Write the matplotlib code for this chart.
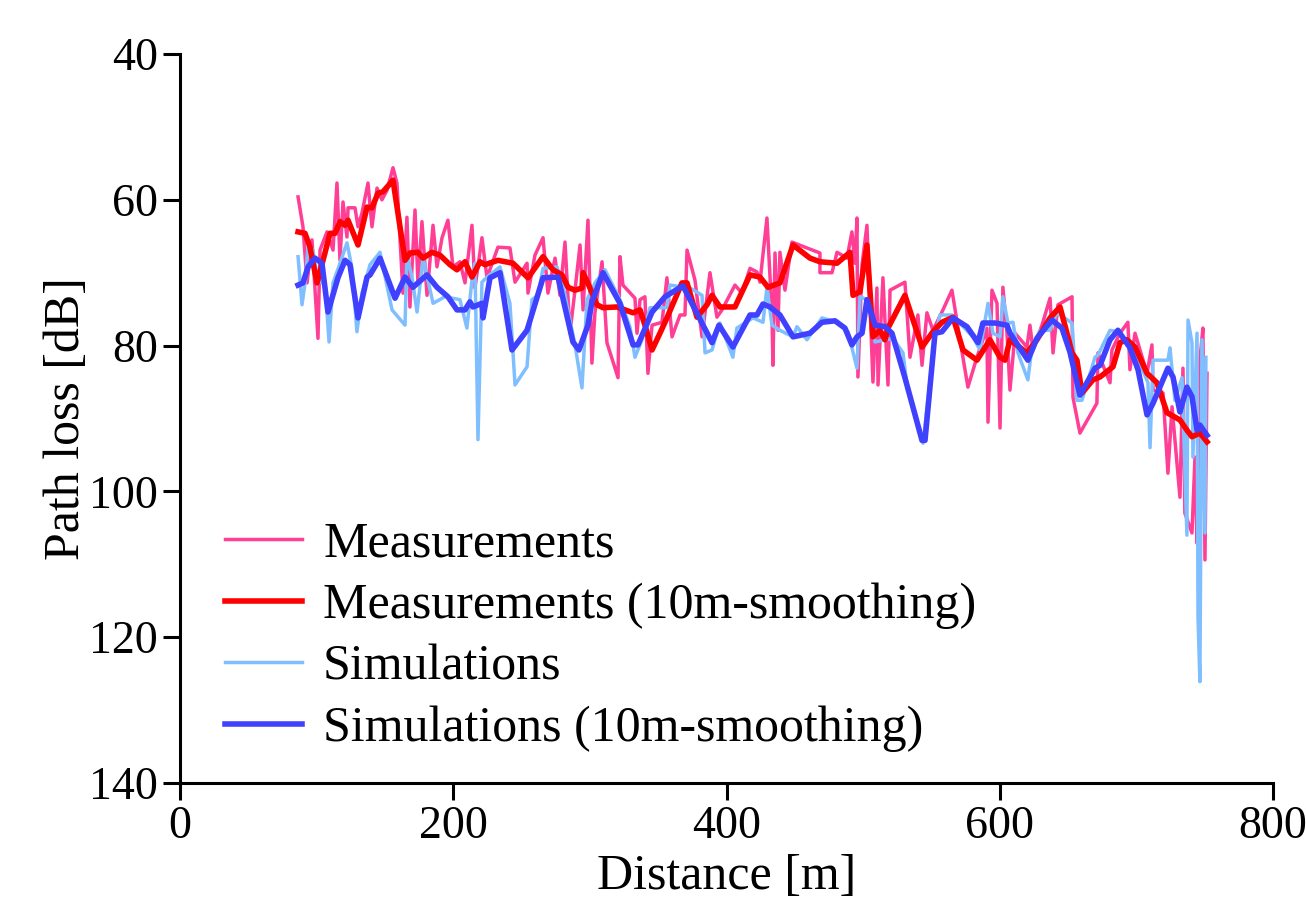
import matplotlib
matplotlib.use("Agg")
import matplotlib.pyplot as plt

plt.rcParams['font.family'] = ['Liberation Serif', 'DejaVu Serif']

# ---- data (distance [m], path loss [dB]) ----
meas_d = [86.4, 90.0, 93.0, 96.6, 101.0, 102.5, 107.6, 112.0, 114.9, 117.1, 119.3, 122.2, 123.0, 128.1,
          130.3, 133.2, 137.6, 140.5, 144.2, 147.8, 151.5, 155.9, 158.8, 163.2, 166.1, 168.3, 172.0, 174.2,
          177.1, 180.8, 185.2, 188.1, 191.8, 196.1, 199.8, 204.9, 208.6, 213.7, 215.9, 221.0, 224.7, 232.7,
          241.5, 245.2, 254.0, 254.7, 259.8, 265.7, 269.3, 274.5, 278.1, 281.8, 285.4, 289.1, 292.8, 295.0,
          298.6, 301.5, 303.7, 308.9, 312.5, 320.6, 322.0, 324.2, 333.0, 334.5, 336.7, 340.3, 342.5, 345.5,
          352.8, 356.4, 360.1, 366.0, 369.6, 371.1, 376.9, 382.1, 387.9, 393.0, 396.7, 406.2, 411.3, 417.2,
          422.3, 424.5, 429.6, 433.3, 434.0, 435.5, 437.7, 439.1, 442.8, 447.9, 468.4, 468.4, 477.2, 480.9,
          488.2, 491.8, 494.0, 495.5, 496.2, 499.2, 502.8, 507.2, 510.1, 510.9, 514.5, 518.2, 519.7, 530.6,
          534.3, 540.1, 543.1, 546.7, 551.1, 557.7, 565.0, 570.9, 576.7, 583.3, 590.6, 591.4, 594.3, 598.0,
          600.2, 602.3, 605.3, 607.5, 611.2, 619.9, 622.1, 624.3, 630.9, 636.8, 639.0, 642.6, 652.9, 653.6,
          658.7, 671.1, 671.9, 680.7, 682.1, 688.0, 693.8, 695.3, 699.0, 707.8, 711.4, 712.2, 719.5, 723.1,
          726.1, 731.9, 734.1, 735.5, 740.7, 742.9, 744.4, 746.5, 748.7, 750.2, 751.7]
meas_pl = [59.6, 63.7, 71.4, 65.5, 79.0, 66.9, 64.4, 66.9, 57.7, 68.3, 60.3, 65.1, 61.1, 61.1,
           63.7, 61.8, 57.7, 63.7, 58.4, 60.0, 58.7, 55.6, 57.7, 72.8, 62.4, 74.7, 61.4, 71.4,
           63.0, 73.1, 63.5, 69.2, 65.2, 62.8, 69.2, 68.5, 71.4, 63.5, 72.1, 65.2, 70.7, 66.5,
           66.6, 71.3, 68.7, 72.8, 67.6, 65.2, 72.8, 68.0, 73.1, 65.8, 78.3, 72.4, 66.2, 75.1,
           62.8, 82.4, 75.5, 68.5, 79.6, 84.4, 67.8, 71.7, 73.5, 78.3, 73.7, 73.3, 83.8, 77.2,
           76.8, 70.7, 78.8, 75.8, 75.8, 66.9, 71.0, 78.8, 70.0, 76.1, 75.1, 71.7, 72.8, 69.4,
           69.9, 71.3, 62.5, 75.8, 82.7, 67.3, 77.9, 67.2, 72.4, 65.8, 67.3, 70.0, 70.0, 67.2,
           68.0, 64.4, 68.7, 62.5, 84.3, 68.9, 63.5, 85.0, 72.1, 85.4, 70.7, 85.4, 72.4, 71.3,
           81.6, 75.8, 82.7, 75.5, 77.9, 75.4, 72.4, 79.2, 85.7, 81.6, 77.6, 90.5, 72.4, 74.2,
           91.3, 72.0, 78.3, 86.1, 78.3, 80.2, 77.2, 80.6, 77.2, 73.5, 81.0, 74.4, 73.3, 87.1,
           92.0, 87.9, 81.0, 85.1, 80.6, 78.3, 76.8, 83.3, 78.3, 83.8, 79.9, 86.1, 86.5, 97.5,
           88.4, 100.8, 83.1, 103.0, 105.7, 95.3, 107.1, 82.0, 77.6, 109.4, 83.8]

meas_s_d = [86.4, 91.5, 95.1, 100.3, 104.7, 109.8, 113.5, 117.1, 120.8, 123.0, 130.3, 136.9, 140.5, 144.9,
            148.6, 155.9, 164.7, 168.3, 174.2, 177.9, 184.4, 190.3, 197.6, 202.7, 208.6, 213.7, 219.6, 223.2,
            232.7, 243.7, 254.7, 265.7, 273.0, 279.6, 284.0, 289.1, 294.2, 295.0, 300.1, 305.2, 309.6, 319.8,
            331.6, 336.7, 340.3, 345.5, 351.3, 356.4, 367.4, 371.1, 378.4, 385.7, 389.4, 395.2, 406.2, 417.2,
            424.5, 430.4, 439.1, 448.7, 461.1, 468.4, 480.9, 490.4, 492.6, 497.7, 502.8, 507.2, 512.3, 516.0,
            518.2, 530.6, 543.1, 551.1, 557.7, 565.8, 573.1, 583.3, 592.8, 600.2, 603.8, 607.5, 619.9, 627.2,
            636.8, 644.1, 649.2, 652.9, 656.5, 660.2, 668.2, 673.4, 682.9, 688.0, 693.1, 699.0, 707.8, 715.1,
            722.4, 731.9, 737.0, 740.7, 746.5, 751.7]
meas_s_pl = [64.4, 64.6, 66.5, 71.4, 68.3, 64.6, 64.6, 63.0, 63.5, 62.8, 66.2, 61.0, 61.1, 59.1,
             58.9, 57.3, 68.3, 67.3, 67.2, 68.0, 67.2, 67.6, 68.9, 69.6, 68.5, 70.6, 68.5, 68.9,
             68.3, 68.7, 70.7, 67.8, 69.6, 70.3, 72.0, 72.4, 72.1, 70.0, 72.1, 74.4, 74.8, 74.7,
             75.5, 75.1, 77.2, 80.6, 78.3, 76.2, 71.4, 71.4, 76.1, 74.4, 73.1, 74.7, 74.7, 70.3,
             70.6, 72.0, 71.4, 66.2, 68.0, 68.5, 68.7, 67.2, 73.1, 72.6, 66.2, 78.8, 77.9, 79.2,
             77.6, 73.1, 80.2, 78.1, 76.8, 76.1, 80.6, 82.0, 79.2, 81.6, 82.0, 79.2, 81.0, 79.2,
             76.2, 74.7, 78.3, 81.0, 82.0, 86.5, 84.7, 84.3, 82.9, 79.6, 79.2, 80.2, 83.8, 85.1,
             89.2, 90.2, 91.6, 92.5, 92.0, 93.2]

sim_d = [86.4, 89.3, 91.5, 93.7, 97.3, 101.0, 106.1, 109.1, 112.0, 117.1, 122.2, 125.9, 129.5, 133.2,
         139.1, 146.4, 155.2, 164.7, 166.1, 169.8, 173.5, 177.9, 185.2, 193.9, 204.9, 210.0, 213.7, 215.9,
         218.1, 221.0, 224.7, 234.2, 241.5, 245.2, 254.0, 257.6, 262.0, 265.7, 275.9, 280.3, 289.1, 294.2,
         297.9, 303.7, 311.1, 322.0, 329.3, 333.0, 338.1, 344.0, 356.4, 358.6, 373.3, 382.1, 384.3, 389.4,
         395.2, 404.7, 407.6, 419.4, 426.7, 429.6, 433.3, 439.1, 448.7, 451.6, 458.9, 469.9, 480.9, 488.9,
         495.5, 497.7, 502.8, 508.7, 521.9, 529.2, 532.1, 543.8, 552.6, 556.2, 565.0, 580.4, 585.5, 591.4,
         595.0, 600.2, 602.3, 606.0, 609.7, 613.3, 620.6, 623.6, 629.4, 636.8, 641.9, 652.9, 656.5, 660.2,
         669.7, 671.9, 680.7, 686.5, 697.5, 708.5, 710.0, 712.2, 723.1, 724.6, 728.2, 733.4, 737.0, 737.8,
         740.7, 741.4, 744.4, 745.1, 746.5, 748.0, 750.2, 750.9]
sim_pl = [67.8, 74.4, 71.4, 66.5, 66.9, 71.3, 71.4, 79.5, 71.4, 68.7, 65.9, 69.4, 78.1, 72.8,
          68.9, 67.2, 75.1, 77.2, 67.6, 70.6, 75.4, 68.0, 74.2, 73.3, 73.7, 77.6, 71.0, 68.7,
          92.9, 71.3, 70.6, 69.2, 74.2, 85.4, 82.9, 73.7, 73.1, 69.4, 69.2, 71.7, 79.9, 85.8,
          73.7, 71.4, 69.6, 73.7, 77.4, 81.6, 79.2, 74.8, 74.8, 71.7, 72.1, 73.1, 81.0, 80.6,
          76.9, 81.6, 77.6, 76.2, 76.8, 72.0, 77.2, 77.9, 78.8, 77.4, 79.2, 76.2, 76.8, 78.1,
          83.1, 73.3, 73.7, 79.5, 79.0, 81.0, 85.4, 93.4, 78.8, 75.8, 75.8, 78.8, 80.6, 74.2,
          78.3, 78.8, 73.3, 76.9, 76.8, 81.0, 84.7, 80.2, 77.9, 77.9, 75.5, 76.9, 87.5, 87.5,
          81.6, 81.3, 77.9, 78.1, 80.2, 85.1, 94.0, 82.0, 82.0, 80.3, 87.5, 84.4, 106.0, 76.5,
          79.6, 95.3, 78.3, 117.2, 126.1, 79.2, 105.7, 81.6]

sim_s_d = [86.4, 90.0, 93.7, 98.8, 103.9, 108.3, 115.6, 120.8, 124.4, 130.3, 136.9, 139.1, 146.4, 157.4,
           164.7, 170.5, 180.8, 188.1, 196.1, 202.7, 208.6, 212.2, 214.4, 221.0, 221.8, 226.9, 234.2, 243.0,
           254.0, 265.7, 276.7, 287.6, 292.0, 298.6, 301.5, 309.6, 322.0, 331.6, 335.2, 345.5, 355.0, 368.1,
           389.4, 394.5, 404.7, 417.2, 422.3, 426.7, 431.8, 439.1, 448.7, 461.1, 469.9, 479.4, 486.7, 491.8,
           495.5, 499.2, 502.8, 508.7, 516.0, 521.1, 530.6, 543.1, 545.3, 552.6, 557.7, 565.8, 576.0, 584.1,
           587.7, 596.5, 605.3, 607.5, 620.6, 627.2, 638.2, 645.5, 651.4, 658.7, 669.7, 673.4, 680.7, 686.5,
           695.3, 701.2, 707.8, 712.2, 723.1, 726.8, 731.9, 737.0, 740.7, 744.4, 746.5, 751.7]
sim_s_pl = [71.7, 71.4, 69.2, 68.0, 68.7, 75.4, 70.7, 68.3, 68.9, 76.2, 70.6, 70.3, 68.0, 73.5,
            70.6, 72.0, 70.3, 72.0, 73.3, 75.1, 75.1, 74.0, 74.7, 74.2, 76.2, 70.7, 70.0, 80.6,
            77.9, 70.7, 70.6, 79.5, 80.6, 77.2, 74.0, 70.0, 74.2, 79.9, 79.9, 75.4, 73.3, 71.8,
            79.6, 77.2, 80.2, 75.8, 75.8, 74.3, 74.7, 75.8, 78.8, 78.3, 76.8, 76.6, 77.6, 79.9,
            78.8, 78.3, 73.7, 77.2, 77.4, 78.3, 84.4, 93.0, 93.0, 78.3, 78.1, 76.2, 77.4, 79.6,
            76.9, 76.9, 77.2, 78.3, 82.0, 79.0, 76.5, 77.6, 80.9, 86.8, 83.1, 82.7, 79.2, 77.9,
            80.3, 83.3, 89.5, 87.9, 83.1, 84.3, 89.1, 85.7, 87.0, 91.6, 90.9, 92.3]

x_ticks = [0, 200, 400, 600, 800]
y_ticks = [40, 60, 80, 100, 120, 140]

# ---- figure ----
fig = plt.figure(figsize=(13.06, 9.19), dpi=100)
ax = fig.add_axes([180/1306, 1 - 783/919, (1273-180)/1306, (783-54)/919])

ax.plot(meas_d, meas_pl, color='#FF3E96', lw=2.5, label='Measurements', zorder=2)
ax.plot(meas_s_d, meas_s_pl, color='#FF0000', lw=4.0, label='Measurements (10m-smoothing)', zorder=3)
ax.plot(sim_d, sim_pl, color='#80BFFF', lw=2.5, label='Simulations', zorder=2.5)
ax.plot(sim_s_d, sim_s_pl, color='#4040FF', lw=4.0, label='Simulations (10m-smoothing)', zorder=4)

ax.set_xlim(0, 800)
ax.set_ylim(140, 40)
ax.set_xticks(x_ticks)
ax.set_yticks(y_ticks)

for s in ['top', 'right']:
    ax.spines[s].set_visible(False)
for s in ['left', 'bottom']:
    ax.spines[s].set_linewidth(2.2)

ax.tick_params(axis='both', direction='out', length=12, width=2.2, labelsize=33, pad=4)
ax.set_xlabel('Distance [m]', fontsize=36, labelpad=4)
ax.set_ylabel('Path loss [dB]', fontsize=36, labelpad=-1)

ax.legend(loc='upper left', bbox_to_anchor=(0.0412, 0.359), frameon=False, fontsize=36,
          handlelength=1.54, handletextpad=0.42, labelspacing=0.3, borderpad=0, borderaxespad=0)

fig.savefig('out.png', dpi=100)
